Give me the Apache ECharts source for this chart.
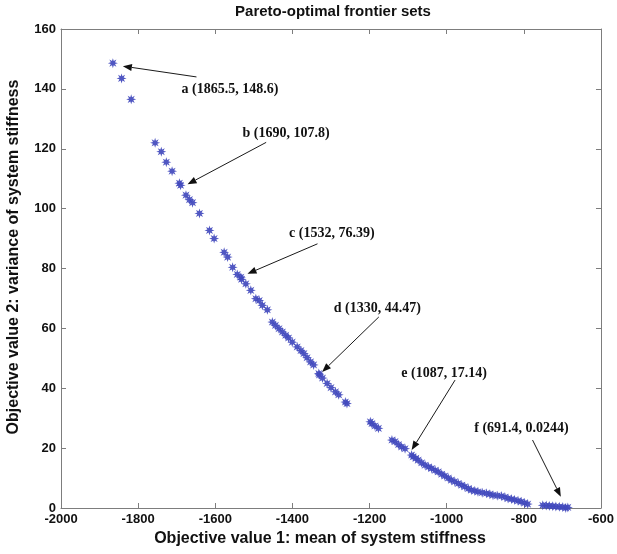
<!DOCTYPE html>
<html>
<head>
<meta charset="utf-8">
<title>Pareto-optimal frontier sets</title>
<script src="https://cdn.jsdelivr.net/npm/echarts@6/dist/echarts.min.js"></script>
<style>
  html, body { margin: 0; padding: 0; background: #ffffff; }
  #chart { width: 617px; height: 554px; }
</style>
</head>
<body>
<div id="chart"></div>
<script>
// Objective value 1 (mean of system stiffness) for each Pareto solution
const frontX = [
  -1865.5, -1843, -1818,
  -1756, -1740, -1727, -1712, -1693, -1690, -1676, -1667, -1659, -1641,
  -1615, -1603, -1577, -1568, -1555, -1543, -1533.7, -1532, -1520.8, -1507.9,
  -1494.8, -1486, -1477.9, -1465,
  -1452.1, -1444, -1434.8, -1426, -1417.5, -1410, -1400.5, -1387.6, -1378,
  -1370.3, -1362, -1353, -1345, -1331.6, -1330, -1322, -1310, -1300, -1288.5,
  -1280, -1262.7, -1258.6,
  -1198, -1194, -1186, -1177,
  -1142, -1134, -1125, -1117, -1108, -1091, -1087, -1080, -1074, -1065, -1056,
  -1047, -1039, -1030, -1022, -1013, -1005, -996, -988, -979, -970, -961, -953,
  -944, -936, -927, -919, -908, -897, -888, -880, -869, -858, -849, -841, -832,
  -824, -815, -807, -798, -790,
  -751, -742, -734, -725, -717, -708, -699, -691.4, -686
];
// Objective value 2 (variance of system stiffness) for the same solutions
const frontY = [
  148.6, 143.5, 136.5,
  122, 119, 115.5, 112.5, 108.5, 107.8, 104.5, 103, 102, 98.4,
  92.7, 90, 85.4, 83.8, 80.4, 78, 77.1, 76.39, 74.9, 72.7,
  69.9, 69.3, 67.7, 66.2,
  62.1, 61, 59.9, 58.8, 57.7, 56.8, 55.4, 53.8, 52.6,
  51.6, 50.2, 48.8, 47.8, 44.9, 44.47, 43.4, 41.6, 40.2, 38.8,
  37.8, 35.4, 34.9,
  28.8, 28.2, 27.4, 26.6,
  22.7, 22.2, 21.2, 20.4, 19.8, 17.7, 17.14, 16.6, 16, 15.1, 14.3,
  13.7, 13.2, 12.6, 12.1, 11.3, 10.7, 10, 9.3, 8.8, 8.2, 7.6, 7.1,
  6.5, 6, 5.7, 5.4, 5.1, 4.9, 4.6, 4.3, 4.1, 4, 3.6, 3.2, 3,
  2.7, 2.4, 2.1, 1.7, 1.3,
  0.9, 0.8, 0.7, 0.6, 0.5, 0.4, 0.3, 0.0244, 0.2
];

// Highlighted solutions a-f
const annoNames = ['a', 'b', 'c', 'd', 'e', 'f'];
const annoX = [-1865.5, -1690, -1532, -1330, -1087, -691.4];
const annoY = [148.6, 107.8, 76.39, 44.47, 17.14, 0.0244];

// Callout layout, in pixels relative to the highlighted point
const arrowHead = [[10, 3], [7, -1], [6, -5.5], [2.7, -2.9], [-1.5, -6.6], [-4.9, -11.2]];
const arrowTail = [[83.6, 13.8], [85.6, -42.9], [76, -35.5], [59.4, -57.9], [41.9, -76.6], [-33.2, -67.9]];
const labelPos = [[68.6, 25.8], [62, -51.6], [47.6, -45.8], [14.4, -66.6], [-11.8, -83.6], [-91.5, -79.9]];

// Eight-pointed asterisk marker
function starPath(outer, inner) {
  let d = '';
  for (let k = 0; k < 16; k++) {
    const r = k % 2 === 0 ? outer : inner;
    const a = k * Math.PI / 8 - Math.PI / 2;
    d += (k === 0 ? 'M' : 'L') + (r * Math.cos(a)).toFixed(3) + ',' + (r * Math.sin(a)).toFixed(3);
  }
  return 'path://' + d + 'Z';
}

const axisGrey = '#7d7d7d';
const sansBold = { fontFamily: 'Liberation Sans', fontWeight: 'bold', color: '#111111' };
const plainNumber = v => String(v);

const chart = echarts.init(document.getElementById('chart'), null, { renderer: 'canvas' });

const xBase = {
  type: 'value', min: -2000, max: -600, interval: 200,
  axisLine: { show: true, onZero: false, lineStyle: { color: axisGrey, width: 1 } },
  axisTick: { show: true, inside: true, length: 5, lineStyle: { color: axisGrey } },
  splitLine: { show: false }
};
const yBase = {
  type: 'value', min: 0, max: 160, interval: 20,
  axisLine: { show: true, onZero: false, lineStyle: { color: axisGrey, width: 1 } },
  axisTick: { show: true, inside: true, length: 5, lineStyle: { color: axisGrey } },
  splitLine: { show: false }
};

chart.setOption({
  animation: false,
  backgroundColor: '#ffffff',
  grid: { left: 61, right: 14, top: 29, bottom: 46 },
  xAxis: [
    Object.assign({}, xBase, {
      position: 'bottom',
      axisLabel: Object.assign({ fontSize: 13, margin: 5, formatter: plainNumber }, sansBold)
    }),
    Object.assign({}, xBase, { position: 'top', axisLabel: { show: false } })
  ],
  yAxis: [
    Object.assign({}, yBase, {
      position: 'left',
      axisLabel: Object.assign({ fontSize: 13, margin: 5, formatter: plainNumber }, sansBold)
    }),
    Object.assign({}, yBase, { position: 'right', axisLabel: { show: false } })
  ],
  series: [{
    type: 'scatter',
    xAxisIndex: 0,
    yAxisIndex: 0,
    data: frontX.map((x, i) => [x, frontY[i]]),
    symbol: starPath(10, 4.6),
    symbolSize: 10,
    itemStyle: { color: '#4149bd', opacity: 0.92 },
    clip: false
  }]
});

// Title, axis names and callouts
const graphics = [
  {
    type: 'text', x: 333, y: 12,
    style: { text: 'Pareto-optimal frontier sets', fontSize: 15, fontFamily: 'Liberation Sans', fontWeight: 'bold', align: 'center', verticalAlign: 'middle', fill: '#111111' }
  },
  {
    type: 'text', x: 320, y: 539,
    style: { text: 'Objective value 1: mean of system stiffness', fontSize: 16, fontFamily: 'Liberation Sans', fontWeight: 'bold', align: 'center', verticalAlign: 'middle', fill: '#111111' }
  },
  {
    type: 'text', x: 14, y: 257, rotation: Math.PI / 2,
    style: { text: 'Objective value 2: variance of system stiffness', fontSize: 16, fontFamily: 'Liberation Sans', fontWeight: 'bold', align: 'center', verticalAlign: 'middle', fill: '#111111' }
  }
];

annoNames.forEach((name, i) => {
  const p = chart.convertToPixel({ xAxisIndex: 0, yAxisIndex: 0 }, [annoX[i], annoY[i]]);
  const hx = p[0] + arrowHead[i][0], hy = p[1] + arrowHead[i][1];
  const tx = p[0] + arrowTail[i][0], ty = p[1] + arrowTail[i][1];
  const len = Math.hypot(hx - tx, hy - ty);
  const ux = (hx - tx) / len, uy = (hy - ty) / len;
  const headLen = 9, headHalf = 3.5;
  const bx = hx - ux * headLen, by = hy - uy * headLen;
  graphics.push({
    type: 'line',
    shape: { x1: tx, y1: ty, x2: bx, y2: by },
    style: { stroke: '#1a1a1a', lineWidth: 1 }
  });
  graphics.push({
    type: 'polygon',
    shape: { points: [[hx, hy], [bx - uy * headHalf, by + ux * headHalf], [bx + uy * headHalf, by - ux * headHalf]] },
    style: { fill: '#111111' }
  });
  graphics.push({
    type: 'text',
    x: p[0] + labelPos[i][0],
    y: p[1] + labelPos[i][1],
    style: {
      text: name + ' (' + (-annoX[i]) + ', ' + annoY[i] + ')',
      fontFamily: 'Liberation Serif', fontWeight: 'bold', fontSize: 14,
      align: 'left', verticalAlign: 'middle', fill: '#111111'
    }
  });
});

chart.setOption({ graphic: graphics });
</script>
</body>
</html>
